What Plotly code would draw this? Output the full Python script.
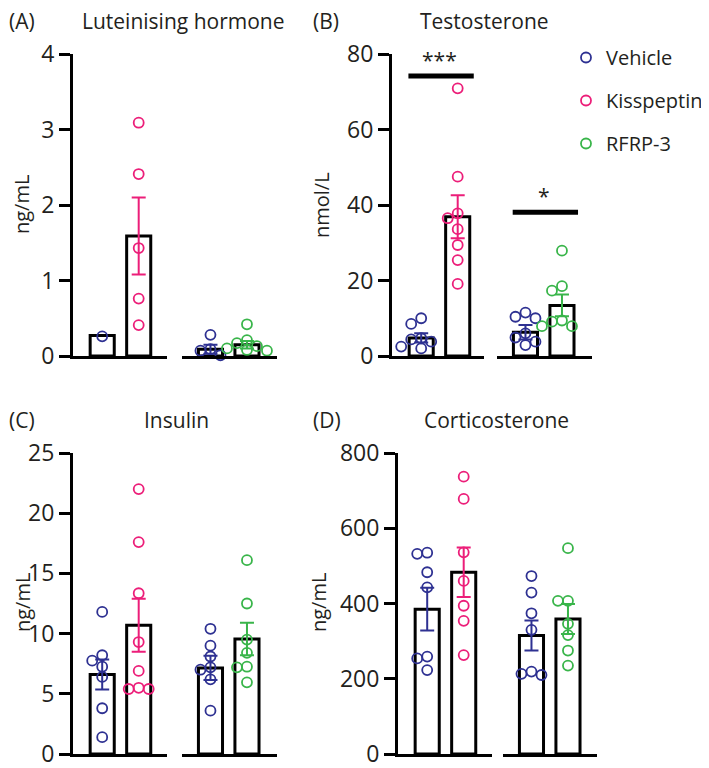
import plotly.graph_objects as go

# the page body adds an 8px margin, so the figure is drawn 8px right and down
OFF = 8
W, H = 709 - OFF, 768 - OFF

# ---------------- data ----------------
treatments = ["Vehicle", "Kisspeptin", "RFRP-3"]
treatment_colors = ["#2e3192", "#ec1e79", "#39b54a"]
# each panel has 4 bars: group 1 (Vehicle, Kisspeptin), group 2 (Vehicle, RFRP-3)
slot_treatment = [0, 1, 0, 2]

panel_letters = ["(A)", "(B)", "(C)", "(D)"]
panel_titles = ["Luteinising hormone", "Testosterone", "Insulin", "Corticosterone"]
y_titles = ["ng/mL", "nmol/L", "ng/mL", "ng/mL"]
y_max = [4, 80, 25, 800]
y_dtick = [1, 20, 5, 200]

lh_points = [[0.26],
             [3.09, 2.41, 1.43, 0.76, 0.41],
             [0.28, 0.09, 0.07, 0.01],
             [0.42, 0.21, 0.17, 0.13, 0.10, 0.08, 0.07]]
lh_mean = [0.27, 1.59, 0.09, 0.15]
lh_sem = [0.0, 0.51, 0.06, 0.05]

testo_points = [[10.0, 8.5, 4.7, 4.4, 3.8, 2.5, 2.0],
                [70.9, 47.5, 37.8, 36.5, 33.6, 29.4, 25.4, 19.1],
                [11.5, 10.4, 10.0, 6.0, 4.9, 3.8, 2.9],
                [27.9, 18.5, 17.3, 9.4, 9.1, 7.9, 7.9]]
testo_mean = [4.8, 36.9, 6.3, 13.4]
testo_sem = [1.2, 5.7, 1.9, 2.9]
testo_sig_level = [74.2, 38.1]
testo_sig_label = ["***", "*"]

ins_points = [[11.8, 8.2, 7.75, 7.25, 6.4, 3.8, 1.4],
              [22.0, 17.6, 13.35, 9.3, 6.9, 5.5, 5.4, 5.4],
              [10.4, 9.0, 8.1, 7.2, 7.0, 6.2, 3.6],
              [16.1, 12.5, 9.5, 8.4, 7.25, 7.2, 5.95]]
ins_mean = [6.6, 10.7, 7.15, 9.55]
ins_sem = [1.25, 2.2, 1.0, 1.35]

cort_points = [[535, 532, 483, 443, 259, 254, 223],
               [737, 678, 536, 460, 394, 354, 263],
               [473, 429, 374, 330, 219, 213, 210],
               [547, 407, 407, 346, 316, 275, 235]]
cort_mean = [385, 483, 315, 359]
cort_sem = [57, 66, 40, 40]

panel_points = [lh_points, testo_points, ins_points, cort_points]
panel_mean = [lh_mean, testo_mean, ins_mean, cort_mean]
panel_sem = [lh_sem, testo_sem, ins_sem, cort_sem]

# ---------------- layout geometry (screen pixels) ----------------
yaxis_x = [73, 392, 73, 398]
left_end = [167, 484, 167, 492]
right_seg = [(182, 277), (497, 592), (182, 277), (503, 597)]
y_top = [54, 54, 453, 453]
y_bot = [356, 356, 754, 754]
cat_px = 36.5
left_start = -0.8
right_start = -0.78
bar_width = 0.66
marker_d = 10.0

FONT = "Open Sans"
TXT = "#231f20"


def px_x(v):
    return (v - OFF) / W


def px_y(v):
    return 1 - (v - OFF) / H


def swarm(values, scale_y, scale_x, d=marker_d):
    placed = []
    offs = [0.0] * len(values)
    order = sorted(range(len(values)), key=lambda i: -values[i])
    slots = [0, -1, 1, -2, 2, -3, 3]
    for i in order:
        yy = values[i] * scale_y
        xx = 0
        for s in slots:
            xx = s * d
            if all((xx - a) ** 2 + (yy - b) ** 2 >= (0.95 * d) ** 2 for a, b in placed):
                break
        placed.append((xx, yy))
        offs[i] = xx / scale_x
    return offs


fig = go.Figure()
layout = dict()
annotations = []
shapes = []
legend_done = set()

for p in range(4):
    xl = 2 * p + 1
    xr = 2 * p + 2
    yi = p + 1
    ysuf = "" if yi == 1 else str(yi)
    xl_name = "x" if xl == 1 else f"x{xl}"
    xr_name = f"x{xr}"
    y_name = f"y{ysuf}"

    ydom = [px_y(y_bot[p]), px_y(y_top[p])]
    lw = left_end[p] - yaxis_x[p]
    rw = right_seg[p][1] - right_seg[p][0]
    xaxis_common = dict(showline=True, linewidth=3, linecolor="black", ticks="",
                        showticklabels=False, showgrid=False, zeroline=False,
                        anchor=y_name, fixedrange=True, automargin=False)
    layout["xaxis" if xl == 1 else f"xaxis{xl}"] = dict(
        xaxis_common, domain=[px_x(yaxis_x[p]), px_x(left_end[p])],
        range=[left_start, left_start + lw / cat_px])
    layout[f"xaxis{xr}"] = dict(
        xaxis_common, domain=[px_x(right_seg[p][0]), px_x(right_seg[p][1])],
        range=[right_start, right_start + rw / cat_px])
    layout["yaxis" if yi == 1 else f"yaxis{yi}"] = dict(
        domain=ydom, range=[0, y_max[p]], tick0=0, dtick=y_dtick[p],
        showline=True, linewidth=3, linecolor="black", ticks="outside",
        ticklen=11, tickwidth=3, tickcolor="black", showgrid=False,
        zeroline=False, anchor=xl_name, fixedrange=True, automargin=False,
        ticklabeloverflow="allow",
        tickfont=dict(family=FONT, size=23, color=TXT))

    scale_y = (y_bot[p] - y_top[p]) / y_max[p]
    pts = panel_points[p]
    means = panel_mean[p]
    sems = panel_sem[p]

    for g, xa in enumerate([xl_name, xr_name]):
        s0 = 2 * g
        fig.add_trace(go.Bar(
            x=[0, 1], y=[means[s0], means[s0 + 1]], width=bar_width,
            marker=dict(color="white", line=dict(color="black", width=3)),
            xaxis=xa, yaxis=y_name, showlegend=False, hoverinfo="skip"))

    for s in range(4):
        xa = xl_name if s < 2 else xr_name
        c = s % 2
        col = treatment_colors[slot_treatment[s]]
        if sems[s] > 0:
            fig.add_trace(go.Scatter(
                x=[c], y=[means[s]], mode="markers",
                marker=dict(size=1, color="rgba(0,0,0,0)"),
                error_y=dict(type="data", array=[sems[s]], color=col,
                             thickness=2, width=7),
                xaxis=xa, yaxis=y_name, showlegend=False, hoverinfo="skip"))
    for s in range(4):
        xa = xl_name if s < 2 else xr_name
        c = s % 2
        t = slot_treatment[s]
        col = treatment_colors[t]
        offs = swarm(pts[s], scale_y, cat_px)
        show = t not in legend_done
        legend_done.add(t)
        fig.add_trace(go.Scatter(
            x=[c + o for o in offs], y=pts[s], mode="markers",
            marker=dict(symbol="circle-open", size=10, color=col,
                        line=dict(width=1.8, color=col)),
            name=treatments[t], legendgroup=treatments[t],
            showlegend=show, cliponaxis=False,
            xaxis=xa, yaxis=y_name))

    # texts
    top_txt_y = 21 if p < 2 else 420
    letter_x = 8 if p % 2 == 0 else 312
    annotations.append(dict(text=panel_letters[p], xref="paper", yref="paper",
                            x=px_x(letter_x), y=px_y(top_txt_y), xanchor="left",
                            yanchor="middle", showarrow=False, borderpad=0,
                            font=dict(family=FONT, size=21, color=TXT)))
    title_cx = [183, 484, 176, 496][p]
    annotations.append(dict(text=panel_titles[p], xref="paper", yref="paper",
                            x=px_x(title_cx), y=px_y(top_txt_y), xanchor="center",
                            yanchor="middle", showarrow=False, borderpad=0,
                            font=dict(family=FONT, size=21, color=TXT)))
    ytitle_x = [22, 322, 22, 318][p]
    ytitle_y = [205, 205, 603, 603][p]
    annotations.append(dict(text=y_titles[p], xref="paper", yref="paper",
                            x=px_x(ytitle_x), y=px_y(ytitle_y), xanchor="center",
                            yanchor="middle", textangle=-90, showarrow=False,
                            borderpad=0,
                            font=dict(family=FONT, size=20, color=TXT)))

# significance bars on testosterone panel
for g, xa in enumerate(["x3", "x4"]):
    shapes.append(dict(type="line", xref=xa, yref="y2", x0=-0.35, x1=1.44,
                       y0=testo_sig_level[g], y1=testo_sig_level[g],
                       line=dict(color="black", width=5)))
    annotations.append(dict(text=testo_sig_label[g], xref=xa, yref="y2",
                            x=0.5, y=testo_sig_level[g], xanchor="center",
                            yanchor="bottom", showarrow=False,
                            font=dict(family=FONT, size=21, color=TXT)))

layout.update(dict(
    template="none", autosize=False,
    width=W, height=H, margin=dict(l=0, r=0, t=0, b=0, pad=0, autoexpand=False),
    paper_bgcolor="white", plot_bgcolor="rgba(0,0,0,0)",
    barmode="overlay", showlegend=True,
    legend=dict(x=px_x(566), y=px_y(38), xanchor="left", yanchor="top",
                font=dict(family=FONT, size=20, color=TXT),
                tracegroupgap=14, bgcolor="rgba(0,0,0,0)", borderwidth=0),
    annotations=annotations, shapes=shapes,
    font=dict(family=FONT, color=TXT),
))
fig.update_layout(**layout)
fig.write_html("out.html")
